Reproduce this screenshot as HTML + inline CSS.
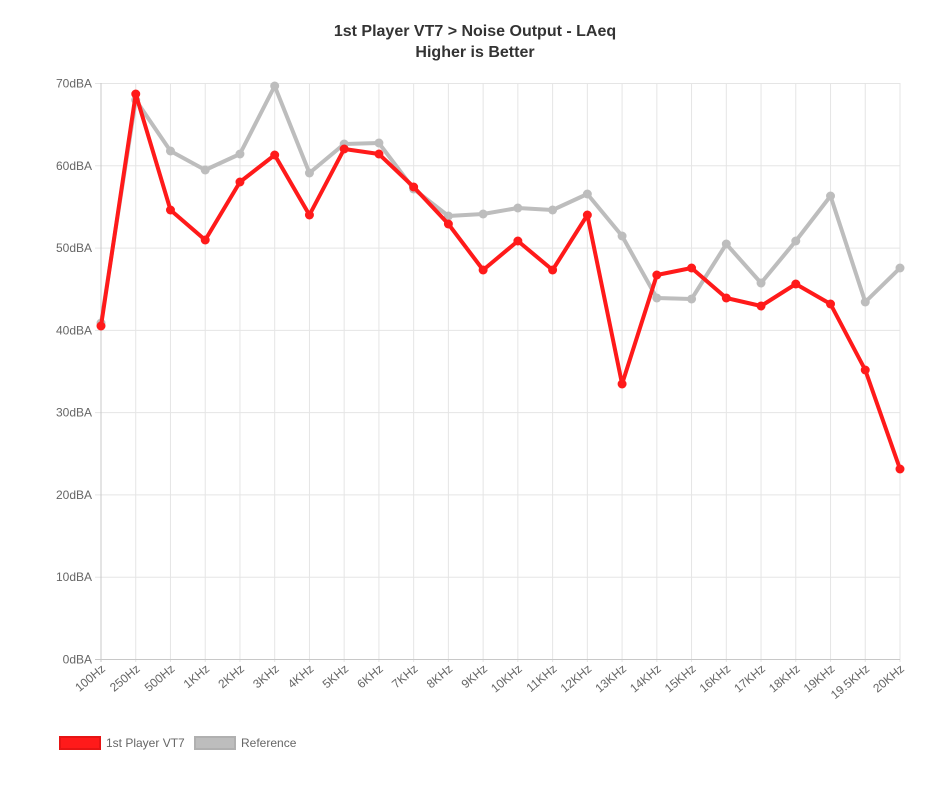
<!DOCTYPE html>
<html><head><meta charset="utf-8"><style>
html,body{margin:0;padding:0;background:#fff;}
svg{display:block;font-family:"Liberation Sans",Arial,sans-serif;}
</style></head><body>
<svg width="950" height="790" viewBox="0 0 950 790">
<text x="475" y="36" text-anchor="middle" font-size="16" font-weight="bold" fill="#333">1st Player VT7 &gt; Noise Output - LAeq</text>
<text x="475" y="57" text-anchor="middle" font-size="16" font-weight="bold" fill="#333">Higher is Better</text>
<g id="grid" stroke="#e5e5e5" stroke-width="1"></g>
<g id="ylab" font-size="12" fill="#666" text-anchor="end"></g>
<g id="xlab" font-size="12" fill="#666" text-anchor="end"></g>
<line x1="101" y1="83" x2="101" y2="662" stroke="#c8c8c8"/>
<line x1="95" y1="659.5" x2="900" y2="659.5" stroke="#c8c8c8"/>
<g id="series"></g>
<rect x="60" y="737" width="40" height="12" fill="#ff1a1a" stroke="#e61414" stroke-width="2"/>
<text x="106" y="747" font-size="12" fill="#666">1st Player VT7</text>
<rect x="195" y="737" width="40" height="12" fill="#bdbdbd" stroke="#b0b0b0" stroke-width="2"/>
<text x="241" y="747" font-size="12" fill="#666">Reference</text>
</svg>
<script>
const ns="http://www.w3.org/2000/svg";
function el(t,a,p,txt){const e=document.createElementNS(ns,t);for(const k in a)e.setAttribute(k,a[k]);if(txt!==undefined)e.textContent=txt;document.getElementById(p).appendChild(e);return e;}
const labels=["100Hz","250Hz","500Hz","1KHz","2KHz","3KHz","4KHz","5KHz","6KHz","7KHz","8KHz","9KHz","10KHz","11KHz","12KHz","13KHz","14KHz","15KHz","16KHz","17KHz","18KHz","19KHz","19.5KHz","20KHz"];
const n=labels.length, x0=101, x1=900, dx=(x1-x0)/(n-1);
for(let i=0;i<=7;i++){const y=659.5-i*576/7;
 if(i>0)el("line",{x1:95,x2:900,y1:y,y2:y},"grid");
 el("text",{x:92,y:y+4},"ylab",(i*10)+"dBA");}
for(let i=0;i<n;i++){const x=x0+i*dx;
 if(i>0)el("line",{x1:x,x2:x,y1:83,y2:662},"grid");
 el("text",{x:x+5,y:670,transform:`rotate(-40 ${x+5} 670)`},"xlab",labels[i]);}
const gray=[323,100,151,170,154,86,173,144,143,189,216,214,208,210,194,236,298,299,244,283,241,196,302,268];
const red=[326,94,210,240,182,155,215,149,154,187,224,270,241,270,215,384,275,268,298,306,284,304,370,469];
function draw(d,c){el("polyline",{points:d.map((y,i)=>`${x0+i*dx},${y}`).join(" "),fill:"none",stroke:c,"stroke-width":4,"stroke-linejoin":"round"},"series");
 d.forEach((y,i)=>el("circle",{cx:x0+i*dx,cy:y,r:4.5,fill:c},"series"));}
draw(gray,"#bdbdbd");draw(red,"#ff1a1a");
</script>
</body></html>
